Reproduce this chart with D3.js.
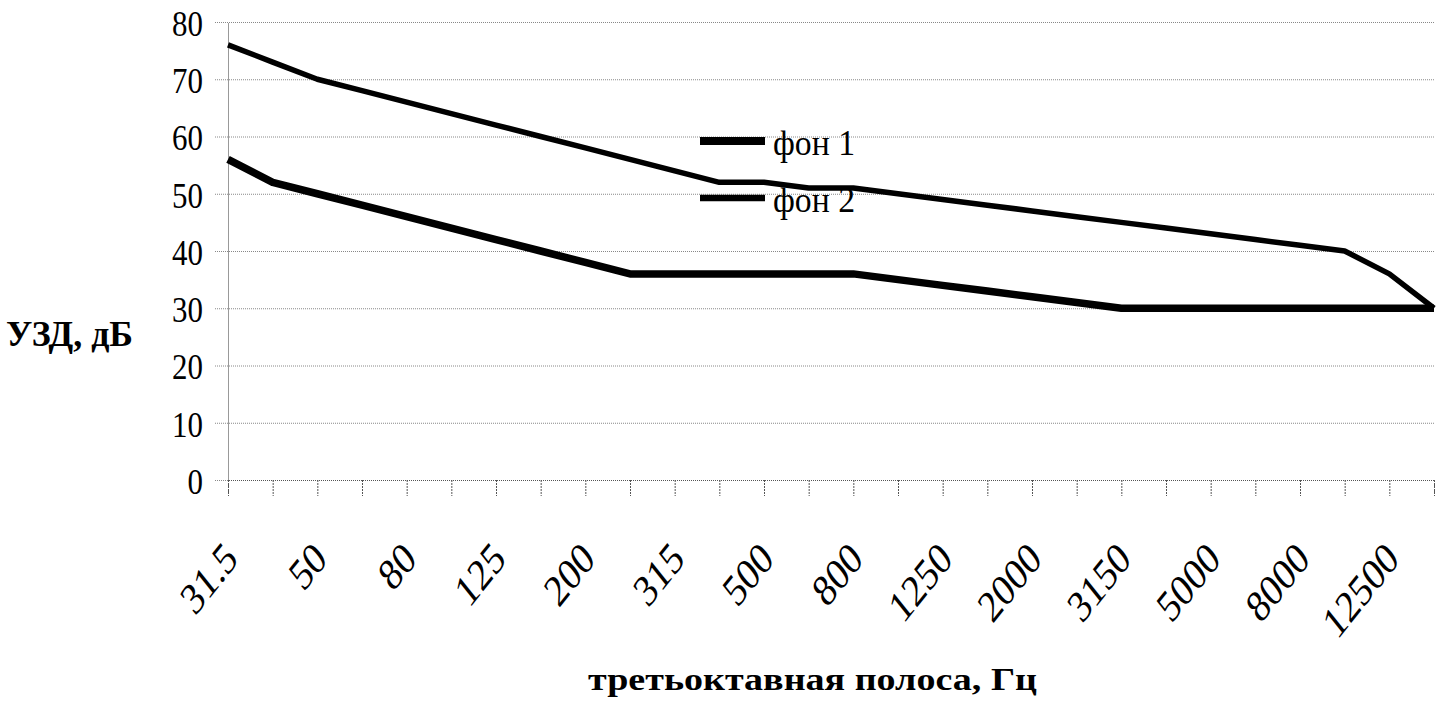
<!DOCTYPE html>
<html>
<head>
<meta charset="utf-8">
<script src="https://cdn.jsdelivr.net/npm/d3@7"></script>
<style>
  body { margin: 0; background: #fff; }
  svg { display: block; }
  text { font-family: "Liberation Serif", "DejaVu Serif", serif; fill: #000; }
</style>
</head>
<body>
<svg id="pic" width="1443" height="716"></svg>
<script>
// third-octave bands, Hz
var bands = ["31.5","40","50","63","80","100","125","160","200","250","315","400","500","630",
             "800","1000","1250","1600","2000","2500","3150","4000","5000","6300","8000","10000","12500","16000"];
// фон 1 (lower, thick)
var fon1 = [56,52,50,48,46,44,42,40,38,36,36,36,36,36,36,35,34,33,32,31,30,30,30,30,30,30,30,30];
// фон 2 (upper)
var fon2 = [76,73,70,68,66,64,62,60,58,56,54,52,52,51,51,50,49,48,47,46,45,44,43,42,41,40,36,30];
var yTicks = [0,10,20,30,40,50,60,70,80];
var seriesNames = ["фон 1", "фон 2"];

var svg = d3.select("#pic");
var sq = 0.86; // scanned picture is squeezed horizontally

var x = d3.scalePoint().domain(bands).range([228, 1434]);
var y = d3.scaleLinear().domain([0, 80]).range([480, 22]);

// gridlines
svg.append("g")
  .attr("transform", "translate(215,0)")
  .call(d3.axisRight(y).tickValues(yTicks).tickSize(1434 - 215).tickFormat(""))
  .call(function(g){
    g.select(".domain").remove();
    g.selectAll("line").attr("stroke", "#888").attr("stroke-dasharray", "1,1");
  });

// y axis
svg.append("g")
  .attr("transform", "translate(228,0)")
  .call(d3.axisLeft(y).tickValues(yTicks).tickSize(0).tickPadding(0))
  .call(function(g){
    g.select(".domain").attr("stroke", "#333").attr("stroke-dasharray", "1,1");
    g.selectAll("text")
      .attr("x", 0).attr("dy", null)
      .attr("font-size", 36)
      .attr("font-family", "Liberation Serif")
      .attr("dominant-baseline", "central")
      .attr("transform", "translate(-25,1) scale(" + sq + ",1)");
  });

// x axis
svg.append("g")
  .attr("transform", "translate(0,480)")
  .call(d3.axisBottom(x).tickSize(16).tickPadding(0)
    .tickFormat(function(d, i){ return i % 2 === 0 ? d : ""; }))
  .call(function(g){
    g.select(".domain").attr("stroke", "#555").attr("stroke-dasharray", "1,1");
    g.selectAll("line").attr("stroke", "#555").attr("stroke-dasharray", "2,1");
    g.selectAll("text")
      .attr("y", 0).attr("dy", null)
      .attr("font-size", 45)
      .attr("font-family", "Liberation Serif")
      .attr("text-anchor", "end")
      .attr("transform", "translate(11,81) scale(0.8,1) rotate(-45)");
  });

// lines
var line = d3.line()
  .x(function(d, i){ return x(bands[i]); })
  .y(function(d){ return y(d); });

svg.append("path").datum(fon2)
  .attr("d", line).attr("fill", "none").attr("stroke", "#000")
  .attr("stroke-width", 5.5).attr("stroke-linejoin", "round");
svg.append("path").datum(fon1)
  .attr("d", line).attr("fill", "none").attr("stroke", "#000")
  .attr("stroke-width", 7.5).attr("stroke-linejoin", "round");

// legend
var legendW = [8, 6.5];
var leg = svg.append("g").attr("transform", "translate(700,141)");
seriesNames.forEach(function(name, i){
  var g = leg.append("g").attr("transform", "translate(0," + (i * 57) + ")");
  g.append("line").attr("x1", 0).attr("x2", 65).attr("y1", 0).attr("y2", 0)
    .attr("stroke", "#000").attr("stroke-width", legendW[i]);
  g.append("text").attr("font-size", 36)
    .attr("textLength", 82).attr("lengthAdjust", "spacingAndGlyphs")
    .attr("transform", "translate(73,14)")
    .text(name);
});

// axis titles
svg.append("text")
  .attr("transform", "translate(6,346)")
  .attr("font-size", 36).attr("font-weight", "bold")
  .attr("textLength", 127).attr("lengthAdjust", "spacingAndGlyphs")
  .text("УЗД, дБ");

svg.append("text")
  .attr("transform", "translate(588,690)")
  .attr("font-size", 32).attr("font-weight", "bold")
  .attr("textLength", 449).attr("lengthAdjust", "spacingAndGlyphs")
  .text("третьоктавная полоса, Гц");
</script>
</body>
</html>
